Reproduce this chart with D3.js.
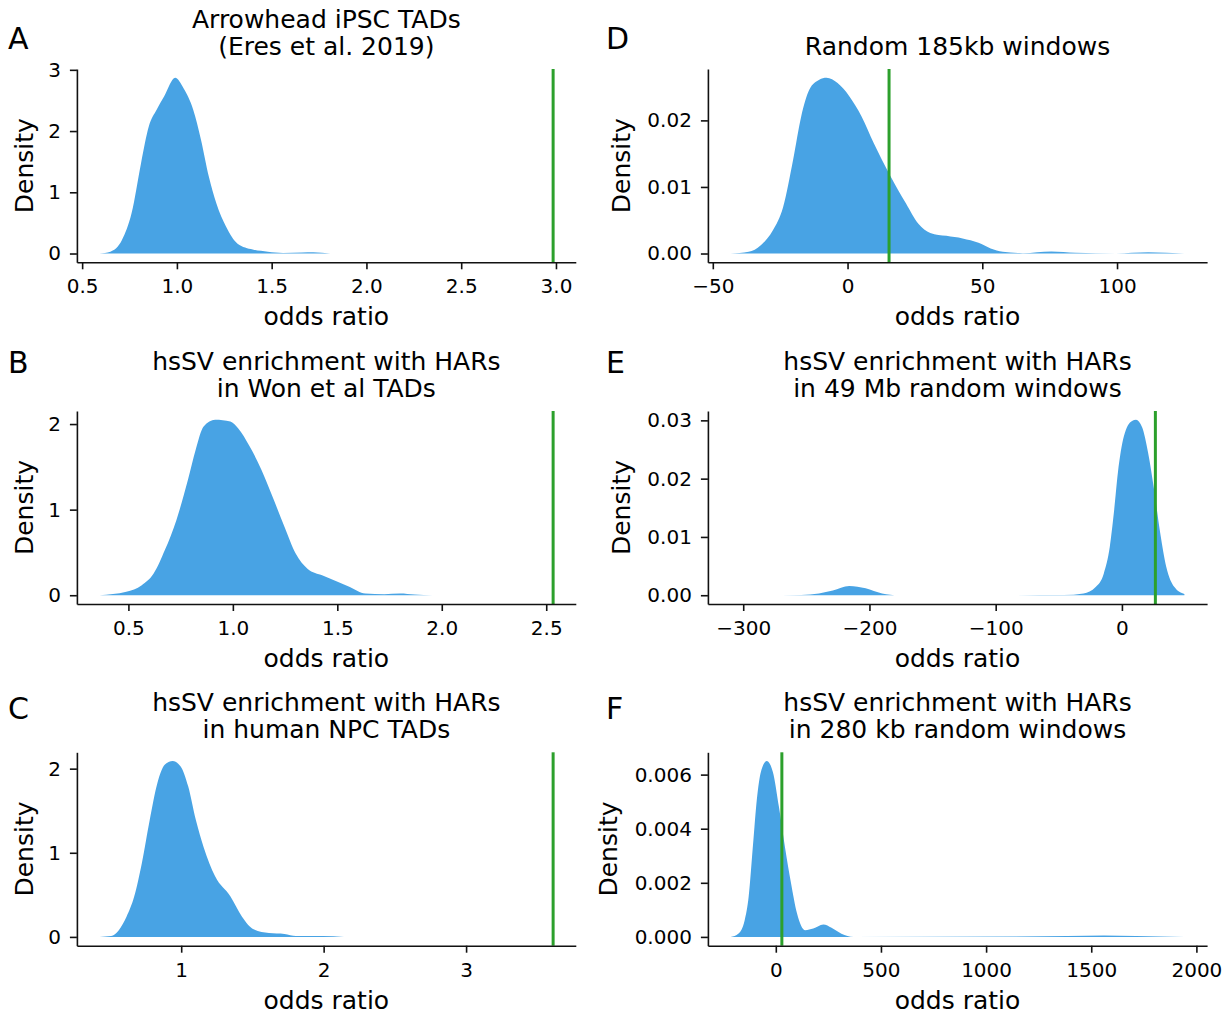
<!DOCTYPE html>
<html>
<head>
<meta charset="utf-8">
<script src="https://cdn.jsdelivr.net/npm/d3@7"></script>
<style>
  body { margin: 0; background: #fff; }
  text { font-family: "DejaVu Sans", sans-serif; fill: #000; }
</style>
</head>
<body>
<div id="chart"></div>
<script>
// density curves: odds ratio (x) and density (d)
const arrowX = [0.592,0.649,0.71,0.761,0.811,0.852,0.893,0.933,0.991,1.035,1.086,1.127,1.168,1.208,1.259,1.32,1.40,1.48,1.56,1.66,1.72,1.81];
const arrowD = [0,0.03,0.22,0.66,1.48,2.08,2.35,2.57,2.87,2.70,2.35,1.86,1.26,0.82,0.44,0.16,0.065,0.03,0.01,0.015,0.02,0];
const wonX = [0.362,0.49,0.564,0.62,0.675,0.73,0.785,0.822,0.86,0.915,0.988,1.025,1.08,1.136,1.19,1.247,1.30,1.357,1.43,1.504,1.56,1.634,1.725,1.80,1.87,1.956];
const wonD = [0,0.04,0.117,0.25,0.53,0.88,1.35,1.70,1.97,2.05,2.03,1.95,1.74,1.47,1.15,0.80,0.49,0.31,0.23,0.156,0.097,0.02,0.012,0.02,0.008,0];
const npcX = [0.427,0.508,0.562,0.616,0.67,0.724,0.779,0.833,0.886,0.94,0.995,1.049,1.103,1.157,1.238,1.346,1.427,1.508,1.616,1.725,1.806,1.995,2.143];
const npcD = [0,0.01,0.08,0.24,0.48,0.88,1.39,1.83,2.05,2.09,2.03,1.79,1.39,1.07,0.72,0.48,0.24,0.09,0.045,0.035,0.01,0.01,0];
const rand185X = [-43.4,-36.7,-32.2,-27.7,-23.9,-20.2,-17.2,-14.2,-10.5,-7.8,-3.7,0.7,5.2,9.7,15.7,21.7,26.2,30.7,36.7,42.7,48.6,53.1,57.6,65.1,75.6,84.6,99.6,111.6,125];
const rand185D = [0,0.00025,0.00125,0.0035,0.007,0.0141,0.0206,0.0246,0.0261,0.0264,0.0256,0.0236,0.0206,0.0166,0.0118,0.0075,0.0045,0.0031,0.00265,0.00226,0.0016,0.00075,0.00025,0.00005,0.0003,0.0001,0.00002,0.00018,0];
const rand49X = [-310,-254,-240,-229,-216,-203,-190,-177,-46,-30.4,-20.8,-14.4,-9.6,-6.4,-3.2,1.6,8,11.2,16,20.7,25.5,30.3,35.1,41.6,49.5];
const rand49D = [0,0.00005,0.0003,0.0008,0.0016,0.0012,0.0003,0,0.00003,0.0003,0.0014,0.0037,0.0083,0.0141,0.021,0.0273,0.0299,0.0301,0.0288,0.0245,0.0181,0.0107,0.0049,0.0014,0.0002];
const rand280X = [-215,-177,-148,-129,-109,-90,-71,-43,-14,15,44,72,101,140,178,226,265,312,370,1387,1560,1713,1943];
const rand280D = [0,0.00013,0.00062,0.00149,0.00335,0.0051,0.0061,0.0065,0.0061,0.0048,0.0033,0.002,0.00087,0.00025,0.00031,0.00046,0.00034,0.00012,0,0.00003,0.00005,0.00003,0];

// observed odds ratios (green lines)
const observed = [2.985, 2.533, 3.611, 15.4, 26.5, 28.8];

const letters = ["A", "B", "C", "D", "E", "F"];
const titles = [
  ["Arrowhead iPSC TADs", "(Eres et al. 2019)"],
  ["hsSV enrichment with HARs", "in Won et al TADs"],
  ["hsSV enrichment with HARs", "in human NPC TADs"],
  ["Random 185kb windows"],
  ["hsSV enrichment with HARs", "in 49 Mb random windows"],
  ["hsSV enrichment with HARs", "in 280 kb random windows"]
];
const xTicks = [
  [0.5, 1.0, 1.5, 2.0, 2.5, 3.0],
  [0.5, 1.0, 1.5, 2.0, 2.5],
  [1, 2, 3],
  [-50, 0, 50, 100],
  [-300, -200, -100, 0],
  [0, 500, 1000, 1500, 2000]
];
const yTicks = [
  [0, 1, 2, 3],
  [0, 1, 2],
  [0, 1, 2],
  [0, 0.01, 0.02],
  [0, 0.01, 0.02, 0.03],
  [0, 0.002, 0.004, 0.006]
];
const xFormats = [".1f", ".1f", "d", "d", "d", "d"];
const yFormats = ["d", "d", "d", ".2f", ".2f", ".3f"];
const curvesX = [arrowX, wonX, npcX, rand185X, rand49X, rand280X];
const curvesD = [arrowD, wonD, npcD, rand185D, rand49D, rand280D];

// layout
const width = 1228, height = 1014;
const cols = [[76.9, 575.8], [707.9, 1207.1]];
const rows = [[69, 262.3], [411, 604], [752.3, 945.7]];
const letterY = [48.5, 372.5, 719];
const letterX = [8, 606];
const ylabelX = [33, 630, 33, 630, 33, 617];   // per panel (F has wider ticks)

const fill = "#48a3e4", green = "#2ca02c";

const svg = d3.select("#chart").append("svg")
    .attr("width", width)
    .attr("height", height);

for (let i = 0; i < 6; i++) {
  const c = Math.floor(i / 3), r = i % 3;
  const [x0, x1] = cols[c], [y0, y1] = rows[r];
  const xs = curvesX[i], ds = curvesD[i];

  // matplotlib style 5% margins
  const lo = Math.min(d3.min(xs), observed[i]), hi = Math.max(d3.max(xs), observed[i]);
  const pad = (hi - lo) * 0.05;
  const peak = d3.max(ds);

  const x = d3.scaleLinear().domain([lo - pad, hi + pad]).range([x0, x1]);
  const y = d3.scaleLinear().domain([-0.05 * peak, 1.05 * peak]).range([y1, y0]);

  const g = svg.append("g");

  const pts = xs.map((v, k) => [v, ds[k]]);
  const area = d3.area()
      .x(p => x(p[0]))
      .y0(y(0))
      .y1(p => y(p[1]))
      .curve(d3.curveMonotoneX);
  g.append("path")
      .attr("d", area(pts))
      .attr("fill", fill);

  // observed value
  g.append("line")
      .attr("x1", x(observed[i])).attr("x2", x(observed[i]))
      .attr("y1", y0).attr("y2", y1)
      .attr("stroke", green)
      .attr("stroke-width", 3);

  const xAxis = g.append("g")
      .attr("transform", `translate(0,${y1})`)
      .call(d3.axisBottom(x).tickValues(xTicks[i]).tickFormat(d3.format(xFormats[i]))
        .tickSize(7).tickSizeOuter(0).tickPadding(10));
  const yAxis = g.append("g")
      .attr("transform", `translate(${x0},0)`)
      .call(d3.axisLeft(y).tickValues(yTicks[i]).tickFormat(d3.format(yFormats[i]))
        .tickSize(7).tickSizeOuter(0).tickPadding(9));
  [xAxis, yAxis].forEach(a => {
    a.selectAll("path.domain").attr("stroke", "#111").attr("stroke-width", 1.6);
    a.selectAll(".tick line").attr("stroke", "#111").attr("stroke-width", 1.6);
    a.selectAll(".tick text")
        .style("font-family", "DejaVu Sans")
        .style("font-size", "20px")
        .attr("fill", "#000");
  });

  // labels
  g.append("text")
      .attr("x", (x0 + x1) / 2)
      .attr("y", y1 + 63)
      .attr("text-anchor", "middle")
      .style("font-size", "25px")
      .text("odds ratio");
  g.append("text")
      .attr("transform", `translate(${ylabelX[i]},${(y0 + y1) / 2}) rotate(-90)`)
      .attr("text-anchor", "middle")
      .style("font-size", "25px")
      .text("Density");

  const t = titles[i];
  t.forEach((line, k) => {
    g.append("text")
        .attr("x", (x0 + x1) / 2)
        .attr("y", y0 - 14 - (t.length - 1 - k) * 27)
        .attr("text-anchor", "middle")
        .style("font-size", "25px")
        .text(line);
  });

  g.append("text")
      .attr("x", letterX[c])
      .attr("y", letterY[r])
      .style("font-size", "30px")
      .text(letters[i]);
}
</script>
</body>
</html>
